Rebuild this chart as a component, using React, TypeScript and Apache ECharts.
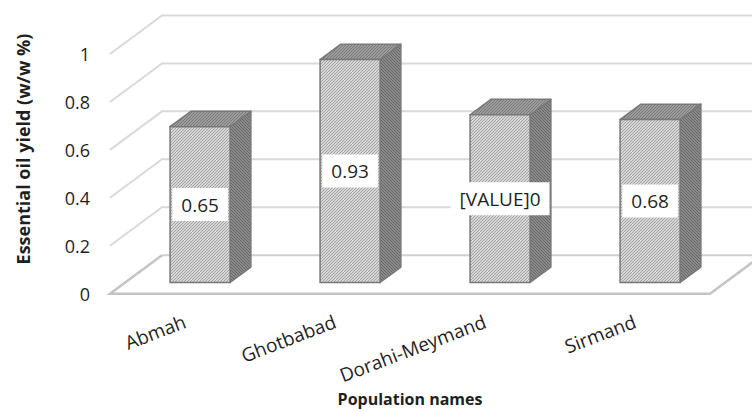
import React, { useEffect, useRef } from 'react';
import * as echarts from 'echarts';

const categories = ['Abmah', 'Ghotbabad', 'Dorahi-Meymand', 'Sirmand'];
const yieldValues = [0.65, 0.93, 0.7, 0.68];
const dataLabels = ['0.65', '0.93', '[VALUE]0', '0.68'];
const yTicks = [0, 0.2, 0.4, 0.6, 0.8, 1];
const yTitle = 'Essential oil yield (w/w %)';
const xTitle = 'Population names';

const DEPTH_X = 52;
const DEPTH_Y = -38.5;
const BAR_FRONT = 0.29;
const BAR_BACK = 0.69;
const BAR_WIDTH_RATIO = 0.4;
const FONT = '"Open Sans", "Liberation Sans", sans-serif';

function hatch(bg: string, line: string, size: number, dir: number) {
  const c = document.createElement('canvas');
  c.width = size;
  c.height = size;
  const ctx = c.getContext('2d') as CanvasRenderingContext2D;
  ctx.fillStyle = bg;
  ctx.fillRect(0, 0, size, size);
  ctx.fillStyle = line;
  for (let x = 0; x < size; x++) {
    for (let y = 0; y < size; y++) {
      const k = dir > 0 ? x + y : x - y + size;
      if (k % size === 0) ctx.fillRect(x, y, 1, 1);
    }
  }
  return { image: c, repeat: 'repeat' } as any;
}

export default function App() {
  const ref = useRef<HTMLDivElement>(null);
  useEffect(() => {
    document.body.style.margin = '0';
    const chart = echarts.init(ref.current!, null, { renderer: 'svg' });
    const frontFill = hatch('#d6d6d6', '#a3a3a3', 3, 1);
    const topFill = hatch('#9c9c9c', '#7a7a7a', 3, 1);
    const sideFill = hatch('#8a8a8a', '#666666', 3, -1);

    const option: any = {
      animation: false,
      backgroundColor: '#ffffff',
      grid: { left: 110, right: 42, top: 54, bottom: 118 },
      xAxis: {
        type: 'category',
        data: categories,
        axisLine: { show: false },
        axisTick: { show: false },
        axisLabel: {
          interval: 0,
          rotate: 21,
          margin: 27,
          fontSize: 19,
          fontFamily: FONT,
          color: '#1f1f1f',
        },
        name: xTitle,
        nameLocation: 'middle',
        nameGap: 96,
        nameTextStyle: { fontSize: 16, fontWeight: 'bold', fontFamily: FONT, color: '#1f1f1f' },
        splitLine: { show: false },
      },
      yAxis: {
        type: 'value',
        min: 0,
        max: 1,
        interval: 0.2,
        axisLine: { show: false },
        axisTick: { show: false },
        splitLine: { show: false },
        axisLabel: {
          margin: 20,
          fontSize: 18,
          fontFamily: FONT,
          color: '#1f1f1f',
          formatter: (v: number) => String(Math.round(v * 10) / 10),
        },
      },
      graphic: [
        {
          type: 'text',
          x: 23,
          y: 149,
          rotation: Math.PI / 2,
          style: {
            text: yTitle,
            x: 0,
            y: 0,
            align: 'center',
            verticalAlign: 'middle',
            font: `bold 18px ${FONT}`,
            fill: '#1f1f1f',
          },
        },
      ],
      series: [
        {
          type: 'custom',
          silent: true,
          z: 1,
          data: yTicks.map((v) => [0, v]),
          encode: { x: 0, y: 1 },
          renderItem: (params: any, api: any) => {
            const v = api.value(1);
            const cs = params.coordSys;
            const x0 = cs.x;
            const W = cs.width;
            const y = api.coord([0, v])[1];
            const children: any[] = [];
            if (v === 0) {
              children.push({
                type: 'polyline',
                shape: {
                  points: [
                    [x0 + DEPTH_X, y + DEPTH_Y],
                    [x0, y],
                    [x0 + W, y],
                    [x0 + W + DEPTH_X, y + DEPTH_Y],
                  ],
                },
                style: { stroke: '#c4c4c4', lineWidth: 2.5, fill: null },
              });
              children.push({
                type: 'line',
                shape: { x1: x0 + DEPTH_X, y1: y + DEPTH_Y, x2: x0 + W + DEPTH_X + 20, y2: y + DEPTH_Y },
                style: { stroke: '#cfcfcf', lineWidth: 2 },
              });
            } else {
              children.push({
                type: 'polyline',
                shape: {
                  points: [
                    [x0, y],
                    [x0 + DEPTH_X, y + DEPTH_Y],
                    [x0 + W + DEPTH_X + 20, y + DEPTH_Y],
                  ],
                },
                style: { stroke: '#d9d9d9', lineWidth: 2, fill: null },
              });
            }
            return { type: 'group', children };
          },
        },
        {
          type: 'custom',
          z: 2,
          data: yieldValues.map((v, i) => [i, v]),
          encode: { x: 0, y: 1 },
          renderItem: (params: any, api: any) => {
            const idx = api.value(0);
            const v = api.value(1);
            const top = api.coord([idx, v]);
            const base = api.coord([idx, 0]);
            const bw = api.size([1, 0])[0] * BAR_WIDTH_RATIO;
            const fx = DEPTH_X * BAR_FRONT;
            const fy = DEPTH_Y * BAR_FRONT;
            const dx = DEPTH_X * (BAR_BACK - BAR_FRONT);
            const dy = DEPTH_Y * (BAR_BACK - BAR_FRONT);
            const xl = top[0] - bw / 2 + fx;
            const xr = xl + bw;
            const yt = top[1] + fy;
            const yb = base[1] + fy;
            const stroke = '#787878';
            return {
              type: 'group',
              children: [
                {
                  type: 'polygon',
                  shape: { points: [[xr, yt], [xr + dx, yt + dy], [xr + dx, yb + dy], [xr, yb]] },
                  style: { fill: sideFill, stroke, lineWidth: 1.5, lineJoin: 'round' },
                },
                {
                  type: 'polygon',
                  shape: { points: [[xl, yt], [xl + dx, yt + dy], [xr + dx, yt + dy], [xr, yt]] },
                  style: { fill: topFill, stroke, lineWidth: 1.5, lineJoin: 'round' },
                },
                {
                  type: 'rect',
                  shape: { x: xl, y: yt, width: bw, height: yb - yt },
                  style: { fill: frontFill, stroke, lineWidth: 1.5 },
                },
                {
                  type: 'text',
                  style: {
                    text: dataLabels[params.dataIndex],
                    x: xl + bw / 2,
                    y: (yt + yb) / 2,
                    align: 'center',
                    verticalAlign: 'middle',
                    font: `19px ${FONT}`,
                    fill: '#1f1f1f',
                    backgroundColor: '#ffffff',
                    padding: [7, 9],
                  },
                },
              ],
            };
          },
        },
      ],
    };
    chart.setOption(option);
    return () => chart.dispose();
  }, []);
  return <div ref={ref} style={{ width: 752, height: 412 }} />;
}
